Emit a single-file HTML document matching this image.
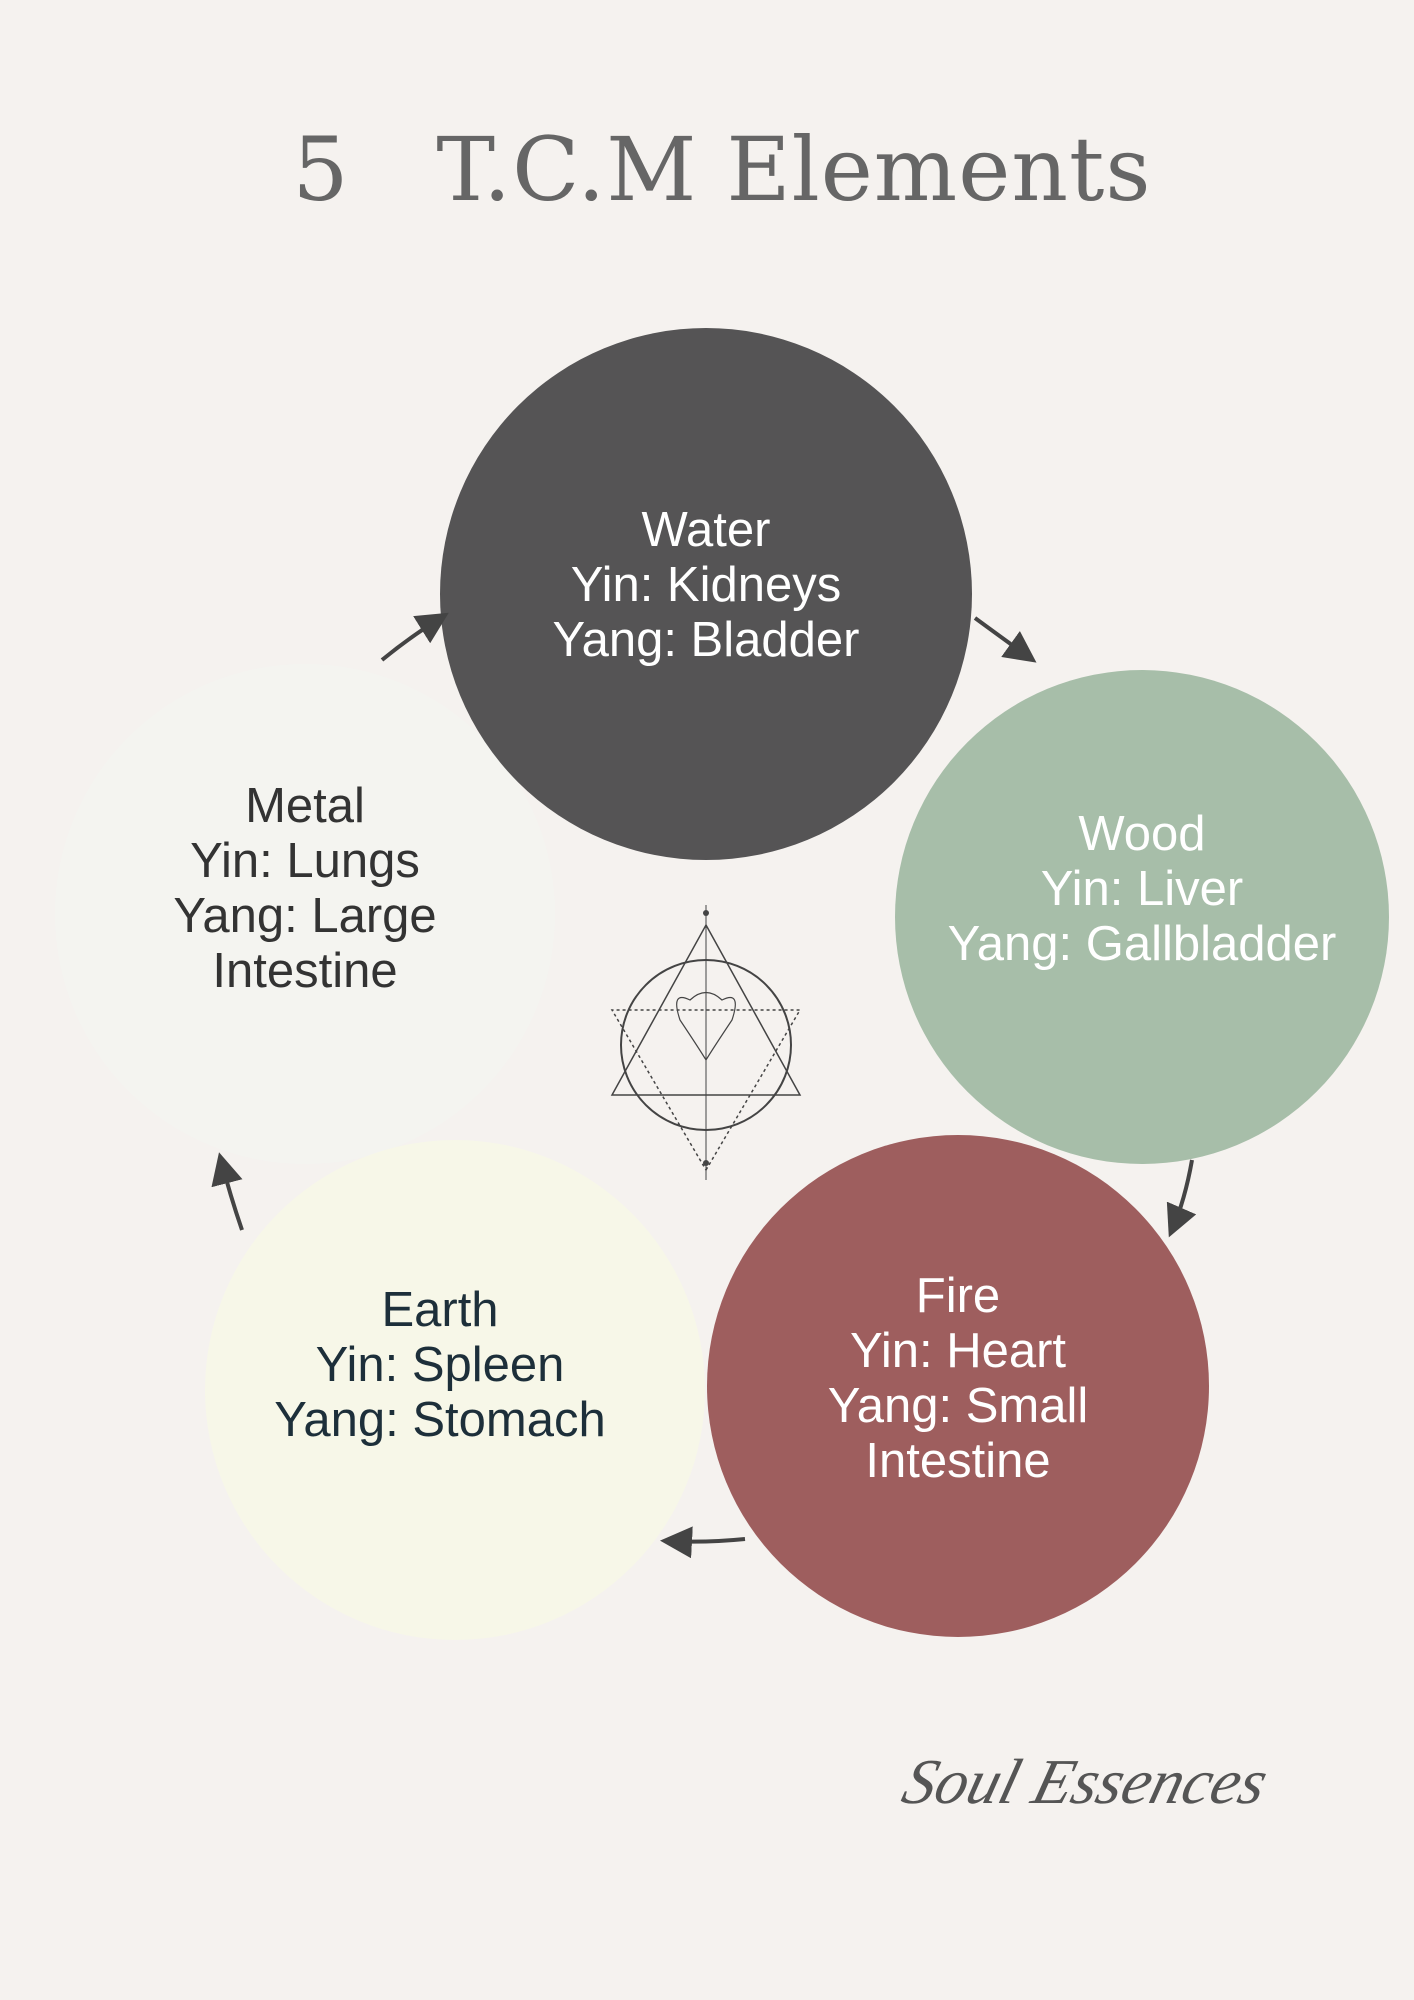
<!DOCTYPE html>
<html><head><meta charset="utf-8"><style>
html,body{margin:0;padding:0}
body{width:1414px;height:2000px;background:#f5f2ef;position:relative;overflow:hidden;font-family:"Liberation Sans",sans-serif}
.title{position:absolute;left:0;width:1414px;top:118px;text-align:center;font-family:"DejaVu Serif","Liberation Serif",serif;font-weight:200;font-size:88px;color:#666;letter-spacing:1px;white-space:pre;padding-left:30px;box-sizing:border-box}
.c{position:absolute;border-radius:50%;display:flex;align-items:center;justify-content:center;text-align:center;font-size:49px;line-height:55px;box-sizing:border-box}
.sig{position:absolute;left:905px;top:1745px;font-family:"Liberation Serif",serif;font-style:italic;font-size:64px;color:#555;transform:skewX(-15deg)}
</style></head><body>
<div class="title">5   T.C.M Elements</div>
<div class="c" style="left:55px;top:664px;width:500px;height:500px;background:#f4f4f0;color:#333;padding-bottom:50px">Metal<br>Yin: Lungs<br>Yang: Large<br>Intestine</div>
<div class="c" style="left:440px;top:328px;width:532px;height:532px;background:#555455;color:#fff;padding-bottom:18px">Water<br>Yin: Kidneys<br>Yang: Bladder</div>
<div class="c" style="left:895px;top:670px;width:494px;height:494px;background:#a7bea9;color:#fff;padding-bottom:56px">Wood<br>Yin: Liver<br>Yang: Gallbladder</div>
<div class="c" style="left:707px;top:1135px;width:502px;height:502px;background:#9e5e5e;color:#fff;padding-bottom:14px">Fire<br>Yin: Heart<br>Yang: Small<br>Intestine</div>
<div class="c" style="left:205px;top:1140px;width:500px;height:500px;background:#f7f7e8;color:#1d2f3a;padding-bottom:50px;padding-right:30px">Earth<br>Yin: Spleen<br>Yang: Stomach</div>
<svg width="1414" height="2000" style="position:absolute;left:0;top:0">
<defs><marker id="a" markerWidth="8" markerHeight="8" refX="6" refY="4" orient="auto"><path d="M0,0 L8,4 L0,8 Z" fill="#444"/></marker></defs>
<g stroke="#444" stroke-width="4" fill="none" marker-end="url(#a)">
<path d="M975,618 Q1005,640 1030,658"/>
<path d="M382,660 Q410,637 442,617"/>
<path d="M1192,1160 Q1185,1200 1172,1230"/>
<path d="M745,1539 Q705,1543 668,1541"/>
<path d="M242,1230 Q230,1195 221,1160"/>
</g>
<g stroke="#444" fill="none" stroke-width="2">
<circle cx="706" cy="1045" r="85"/>
<path d="M706,925 L800,1095 L612,1095 Z" stroke-width="1.5"/>
<path d="M706,1170 L800,1010 L612,1010 Z" stroke-width="1.5" stroke-dasharray="3,3"/>
<line x1="706" y1="905" x2="706" y2="1180" stroke-width="1"/>
<path d="M690,1000 Q670,990 680,1020 Q700,1050 706,1060 Q712,1050 732,1020 Q742,990 722,1000 Q706,985 690,1000 Z" stroke-width="1.2"/>
</g>
<circle cx="706" cy="913" r="3" fill="#444"/><circle cx="706" cy="1163" r="3" fill="#444"/>
</svg>
<div class="sig">Soul Essences</div>
</body></html>
